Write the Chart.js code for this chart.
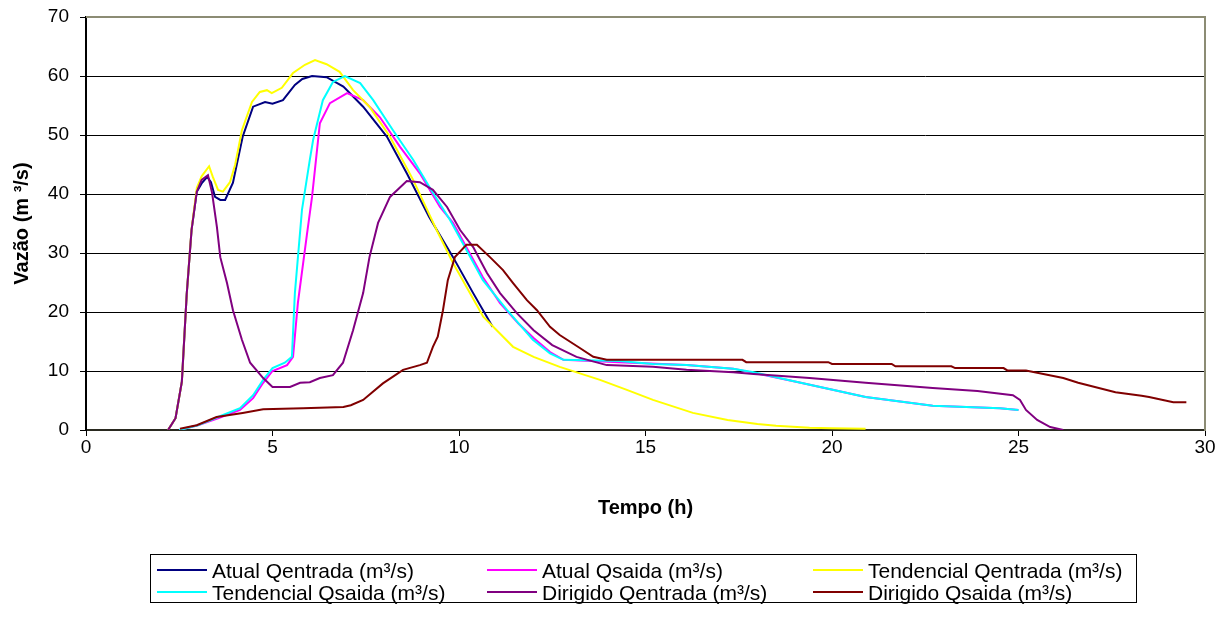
<!DOCTYPE html>
<html>
<head>
<meta charset="utf-8">
<script src="https://cdn.jsdelivr.net/npm/chart.js@4.4.0/dist/chart.umd.min.js"></script>
<style>
  body { margin: 0; background: #fff; font-family: "Liberation Sans", Arial, sans-serif; }
  #wrap { position: relative; width: 1230px; height: 630px; }
  #legend { position: absolute; left: 150px; top: 554px; width: 985px; height: 47px; border: 1px solid #000; }
  .item { position: absolute; font-size: 21px; line-height: 22px; color: #000; white-space: nowrap; }
  .item span.sw { display: inline-block; width: 50px; height: 2px; vertical-align: middle; margin-right: 5px; position: relative; top: -2px; }
</style>
</head>
<body>
<div id="wrap">
  <canvas id="chart" width="1230" height="630"></canvas>
  <div id="legend"></div>
</div>
<script>
// tempo (h) / vazao (m3/s)
const atualEntT = [2.2, 2.4, 2.57, 2.7, 2.83, 2.97, 3.1, 3.25, 3.35, 3.46, 3.6, 3.73, 3.94, 4.2, 4.48, 4.8, 5.0, 5.28, 5.6, 5.8, 6.06, 6.45, 6.9, 7.43, 8.07, 8.6, 9.2, 9.84, 10.38, 10.9];
const atualEntQ = [0, 2, 8.2, 23, 33.9, 40.4, 41.8, 42.9, 42, 39.5, 39, 39, 41.9, 49.7, 54.8, 55.6, 55.3, 55.9, 58.5, 59.5, 60, 59.8, 58.2, 54.8, 49.7, 43.5, 36.1, 29.3, 23.2, 17.5];

const atualSaiT = [2.5, 3.0, 3.54, 4.13, 4.48, 4.75, 5.0, 5.39, 5.55, 5.68, 5.92, 6.06, 6.27, 6.54, 7.0, 7.43, 7.88, 8.42, 8.95, 9.49, 9.84, 10.64, 11.1, 11.6, 12.0, 12.44, 12.8, 14.3, 16.1, 17.35, 19.1, 20.9, 22.7, 24.5, 25.0];
const atualSaiQ = [0, 0.8, 2.0, 3.4, 5.4, 8.0, 10.0, 11.0, 12.4, 21.5, 33, 39.5, 52, 55.4, 57.1, 55.9, 53, 48, 43.5, 37.8, 35.1, 25.9, 21.5, 18, 15.6, 13.2, 11.9, 11.5, 11.0, 10.4, 8.1, 5.6, 4.1, 3.7, 3.4];

const tendEntT = [2.2, 2.4, 2.57, 2.7, 2.83, 2.97, 3.1, 3.3, 3.4, 3.54, 3.67, 3.86, 4.0, 4.18, 4.45, 4.66, 4.85, 4.98, 5.25, 5.55, 5.87, 6.14, 6.45, 6.8, 7.16, 7.6, 8.15, 8.77, 9.4, 9.84, 10.65, 11.45, 12.0, 12.7, 13.78, 14.5, 15.2, 16.27, 17.2, 18.0, 18.5, 19.4, 20.0, 20.9];
const tendEntQ = [0, 2, 8.2, 23, 34, 41, 43, 44.7, 42.9, 40.7, 40.4, 42, 45, 50.8, 55.6, 57.3, 57.6, 57.1, 58, 60.5, 61.9, 62.7, 62, 60.7, 57.6, 54.8, 49.7, 42.4, 33.9, 28.3, 19.2, 14.1, 12.4, 10.7, 8.5, 6.8, 5.1, 2.9, 1.7, 1.0, 0.7, 0.4, 0.3, 0.2];

const tendSaiT = [2.5, 3.0, 3.54, 4.13, 4.48, 4.75, 5.0, 5.33, 5.52, 5.6, 5.79, 6.0, 6.09, 6.35, 6.62, 6.94, 7.35, 7.7, 8.23, 8.77, 9.3, 9.76, 10.2, 10.64, 11.29, 11.98, 12.44, 12.8, 14.3, 15.2, 16.1, 17.35, 17.9, 19.1, 20.9, 22.7, 24.5, 25.0];
const tendSaiQ = [0, 0.8, 2.2, 3.7, 5.9, 8.5, 10.5, 11.4, 12.4, 23.2, 37.3, 45.8, 49.2, 55.9, 59, 60, 58.8, 55.9, 50.8, 45.8, 40.2, 35.6, 30.5, 25.4, 20.3, 15.3, 13, 11.9, 11.7, 11.2, 11.0, 10.4, 9.8, 8.1, 5.6, 4.1, 3.7, 3.4];

const dirEntT = [2.2, 2.4, 2.57, 2.7, 2.83, 2.97, 3.1, 3.27, 3.38, 3.51, 3.6, 3.78, 3.94, 4.18, 4.4, 4.75, 5.0, 5.47, 5.74, 6.0, 6.27, 6.62, 6.89, 7.16, 7.43, 7.6, 7.83, 8.15, 8.6, 8.95, 9.3, 9.68, 10.03, 10.38, 10.75, 11.1, 11.55, 12.0, 12.5, 13.15, 13.96, 15.2, 16.1, 17.35, 17.9, 19.4, 20.9, 22.7, 23.9, 24.85, 25.04, 25.2, 25.5, 25.85, 26.2];
const dirEntQ = [0, 2, 8.2, 23, 33.9, 40.4, 42.4, 43.2, 40.2, 34.4, 29.3, 24.9, 20.3, 15.3, 11.4, 8.8, 7.3, 7.3, 8.0, 8.1, 8.8, 9.3, 11.4, 16.9, 23.2, 29.3, 35.1, 39.5, 42.2, 42, 40.7, 37.8, 33.9, 31.0, 26.6, 23.2, 19.8, 16.9, 14.4, 12.4, 11.0, 10.7, 10.2, 9.8, 9.5, 8.8, 8.0, 7.1, 6.6, 5.9, 5.1, 3.4, 1.7, 0.5, 0];

const dirSaiT = [2.52, 2.97, 3.5, 4.2, 4.75, 5.82, 6.9, 7.1, 7.43, 7.96, 8.5, 8.95, 9.14, 9.3, 9.43, 9.57, 9.7, 9.89, 10.2, 10.48, 10.83, 11.18, 11.45, 11.82, 12.09, 12.44, 12.7, 13.24, 13.6, 13.96, 17.6, 17.7, 19.9, 20.0, 21.6, 21.7, 23.2, 23.3, 24.6, 24.7, 25.2, 26.2, 26.6, 27.6, 28.3, 28.5, 29.15, 29.5];
const dirSaiQ = [0.2, 0.8, 2.2, 2.9, 3.5, 3.7, 3.9, 4.2, 5.1, 7.9, 10.2, 11.0, 11.4, 14.1, 15.8, 20.3, 25.4, 29.3, 31.4, 31.4, 29.3, 27.1, 24.9, 22.0, 20.3, 17.5, 16.1, 13.9, 12.4, 11.9, 11.9, 11.5, 11.5, 11.2, 11.2, 10.8, 10.8, 10.5, 10.5, 10.1, 10.1, 8.8, 8.0, 6.4, 5.8, 5.6, 4.7, 4.7];

const seriesNames = [
  "Atual Qentrada (m³/s)", "Atual Qsaida (m³/s)", "Tendencial Qentrada (m³/s)",
  "Tendencial Qsaida (m³/s)", "Dirigido Qentrada (m³/s)", "Dirigido Qsaida (m³/s)"
];
const seriesColors = ["#000080", "#ff00ff", "#ffff00", "#00ffff", "#800080", "#800000"];
const seriesT = [atualEntT, atualSaiT, tendEntT, tendSaiT, dirEntT, dirSaiT];
const seriesQ = [atualEntQ, atualSaiQ, tendEntQ, tendSaiQ, dirEntQ, dirSaiQ];

const FONT = "'Liberation Sans', Arial, sans-serif";

const datasets = seriesNames.map((name, i) => ({
  label: name,
  data: seriesT[i].map((t, k) => ({ x: t, y: seriesQ[i][k] })),
  borderColor: seriesColors[i],
  backgroundColor: seriesColors[i],
  borderWidth: 2,
  pointRadius: 0,
  tension: 0,
  fill: false,
  order: 5 - i, // later series on top, like the original
}));

// gray frame on the top and right side of the plot
const plotFrame = {
  id: "plotFrame",
  afterDatasetsDraw(chart) {
    const a = chart.chartArea;
    const ctx = chart.ctx;
    ctx.save();
    ctx.strokeStyle = "#8c8c74";
    ctx.lineWidth = 2;
    ctx.beginPath();
    ctx.moveTo(a.left, a.top);
    ctx.lineTo(a.right, a.top);
    ctx.lineTo(a.right, a.bottom + 1);
    ctx.stroke();
    ctx.restore();
  },
};

new Chart(document.getElementById("chart"), {
  type: "line",
  data: { datasets: datasets },
  options: {
    responsive: false,
    animation: false,
    layout: { padding: { left: 6, right: 25, top: 17, bottom: 106 } },
    plugins: { legend: { display: false }, tooltip: { enabled: false } },
    scales: {
      x: {
        type: "linear",
        min: 0,
        max: 30,
        ticks: { stepSize: 5, color: "#000", font: { family: FONT, size: 19 }, padding: 0, maxRotation: 0 },
        grid: { drawOnChartArea: false, drawTicks: true, tickLength: 6, color: "#000" },
        border: { color: "#2a2a20", width: 2 },
        title: { display: true, text: "Tempo (h)", color: "#000", font: { family: FONT, size: 20, weight: "bold" } },
        afterFit: (s) => { s.height = 94; s.paddingLeft = 0; s.paddingRight = 0; },
      },
      y: {
        min: 0,
        max: 70,
        ticks: { stepSize: 10, color: "#000", font: { family: FONT, size: 19 }, padding: 11 },
        grid: { color: "#000", lineWidth: 1, tickLength: 6 },
        border: { color: "#000", width: 2 },
        title: { display: true, text: "Vazão (m ³/s)", color: "#000", font: { family: FONT, size: 20, weight: "bold" } },
        afterFit: (s) => { s.width = 80; s.paddingTop = 0; s.paddingBottom = 0; },
      },
    },
  },
  plugins: [plotFrame],
});

// legend box, 3 columns x 2 rows
const legendCols = [6, 336, 662];
const legend = document.getElementById("legend");
seriesNames.forEach((name, i) => {
  const el = document.createElement("div");
  el.className = "item";
  el.style.left = legendCols[i % 3] + "px";
  el.style.top = (i < 3 ? 5 : 27) + "px";
  el.innerHTML = '<span class="sw" style="background:' + seriesColors[i] + '"></span>' + name;
  legend.appendChild(el);
});
</script>
</body>
</html>
